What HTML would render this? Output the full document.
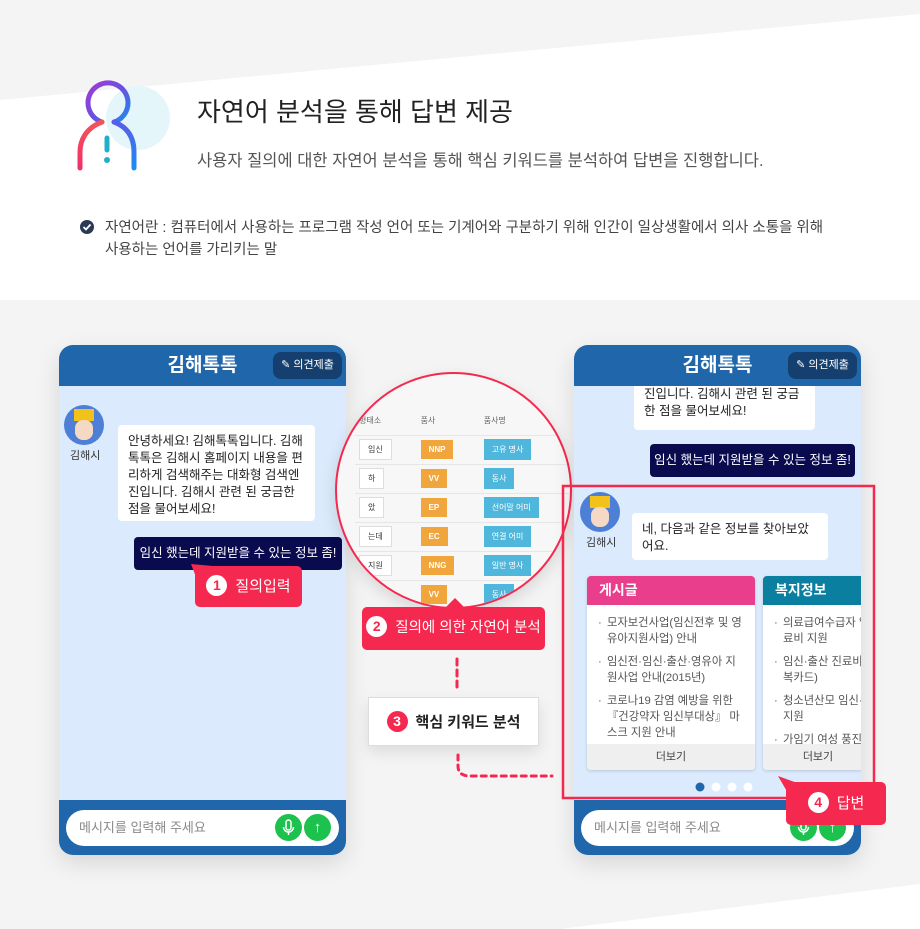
<!DOCTYPE html>
<html><head><meta charset="utf-8"><style>
*{margin:0;padding:0;box-sizing:border-box}
body{width:920px;height:929px;position:relative;overflow:hidden;background:#fff;font-family:"Liberation Sans","Noto Sans CJK KR",sans-serif;color:#333}
.a{position:absolute}
.phone{position:absolute;width:287px;height:510px;border-radius:14px;overflow:hidden;background:#dbeafc;box-shadow:0 8px 24px rgba(0,0,0,.12)}
.hd{position:absolute;left:0;top:0;width:100%;height:41px;background:#1f66aa;color:#fff;font-weight:bold;font-size:19px;text-align:center;line-height:41px}
.op{position:absolute;right:4px;top:7px;width:69px;height:27px;border-radius:8px;background:#153f6e;color:#fff;font-size:11px;line-height:27px;font-weight:normal;text-align:center}
.ft{position:absolute;left:0;bottom:0;width:100%;height:55px;background:#1f66aa}
.inp{position:absolute;left:7px;top:10px;width:273px;height:36px;border-radius:18px;background:#fff;color:#888;font-size:13px;line-height:36px;padding-left:13px}
.gb{position:absolute;top:4px;width:27px;height:27px;border-radius:50%;background:#1cc14e;color:#fff;text-align:center;line-height:27px;font-size:15px;font-weight:bold}
.gb svg{position:absolute;left:0;top:0}
.av{position:absolute;width:40px;height:40px;border-radius:50%;background:#4d7fd6;overflow:hidden}
.av i{position:absolute;left:10px;top:4px;width:20px;height:12px;background:#f2c21a}
.av b{position:absolute;left:11px;top:15px;width:18px;height:20px;border-radius:8px;background:#f6d9c4}
.avl{position:absolute;font-size:11px;color:#333}
.bub{position:absolute;background:#fff;border-radius:4px;font-size:12.5px;line-height:17px;padding:8px 10px;color:#222}
.um{position:absolute;background:#0a0a4e;color:#fff;border-radius:4px;font-size:12.5px;line-height:33px;text-align:center}
.co{position:absolute;background:#f5294f;color:#fff;border-radius:5px;font-size:15px;text-align:center}
.num{display:inline-block;width:21px;height:21px;border-radius:50%;background:#fff;color:#f5294f;font-weight:bold;font-size:14px;line-height:21px;text-align:center;margin-right:8px;vertical-align:1px}
table{border-collapse:collapse;font-size:8px}
td{height:29px;border-bottom:1px solid #e6e6e6;padding:0 4px}
.t1{display:inline-block;border:1px solid #ddd;background:#fff;padding:4px 8px;color:#333}
.t2{display:inline-block;background:#f0a53d;color:#fff;padding:5px 8px;font-weight:bold}
.t3{display:inline-block;background:#4fb7dc;color:#fff;padding:5px 8px}
.card{position:absolute;background:#fff;border-radius:4px;overflow:hidden;box-shadow:0 1px 3px rgba(0,0,0,.15)}
.card .ch{height:29px;color:#fff;font-size:14px;line-height:29px;padding-left:12px;font-weight:bold}
.card ul{list-style:none;padding:10px 10px 0 11px;font-size:11.3px;line-height:16px;color:#555}
.card li{padding-left:9px;position:relative;margin-bottom:7px}
.card li:before{content:"·";position:absolute;left:0}
.card .mr{position:absolute;bottom:0;left:0;width:100%;height:26px;background:#efefef;font-size:11px;line-height:26px;text-align:center;color:#444}
</style></head><body>
<svg class="a" style="left:0;top:0" width="920" height="929">
<polygon points="0,0 920,0 920,14 0,100" fill="#f4f4f4"/>
<rect x="0" y="300" width="920" height="629" fill="#f4f4f4"/>
<polygon points="920,884 920,929 560,929" fill="#fff"/>
<circle cx="138" cy="118" r="32" fill="#e4f6fa"/>
<defs><linearGradient id="g1" x1="0" y1="0" x2="1" y2="1"><stop offset="0" stop-color="#a13bd6"/><stop offset=".5" stop-color="#6a4fe0"/><stop offset="1" stop-color="#1b8cf0"/></linearGradient>
<linearGradient id="g2" x1="0" y1="0" x2="0" y2="1"><stop offset="0" stop-color="#f4535a"/><stop offset="1" stop-color="#f0306a"/></linearGradient>
<linearGradient id="g3" x1="0" y1="0" x2="0" y2="1"><stop offset="0" stop-color="#5a5de8"/><stop offset="1" stop-color="#1b8cf0"/></linearGradient></defs>
<path d="M102,122 A20,20 0 1 1 114,122" fill="none" stroke="url(#g1)" stroke-width="5" stroke-linecap="round"/>
<path d="M102,122 C86,128 80,140 80,152 L80,168" fill="none" stroke="url(#g2)" stroke-width="5" stroke-linecap="round"/>
<path d="M114,122 C130,128 134,140 134,152 L134,168" fill="none" stroke="url(#g3)" stroke-width="5" stroke-linecap="round"/>
<line x1="107" y1="138" x2="107" y2="150" stroke="#1fb0c8" stroke-width="5" stroke-linecap="round"/>
<circle cx="107" cy="160" r="3" fill="#1fb0c8"/>
<circle cx="87" cy="227" r="7" fill="#2a3a55"/>
<path d="M83.5,227 l2.5,2.5 l4.5,-5" fill="none" stroke="#fff" stroke-width="1.8"/>
</svg>
<div class="a" style="left:197px;top:92px;font-size:26px;color:#222">자연어 분석을 통해 답변 제공</div>
<div class="a" style="left:197px;top:147px;font-size:16.5px;color:#555">사용자 질의에 대한 자연어 분석을 통해 핵심 키워드를 분석하여 답변을 진행합니다.</div>
<div class="a" style="left:105px;top:217px;font-size:14.5px;line-height:22px;color:#444;width:760px">자연어란 : 컴퓨터에서 사용하는 프로그램 작성 언어 또는 기계어와 구분하기 위해 인간이 일상생활에서 의사 소통을 위해<br>사용하는 언어를 가리키는 말</div>

<!-- left phone -->
<div class="phone" style="left:59px;top:345px">
<div class="hd">김해톡톡<div class="op">✎ 의견제출</div></div>
<div class="av" style="left:5px;top:60px"><i></i><b></b></div>
<div class="avl" style="left:11px;top:102px">김해시</div>
<div class="bub" style="left:59px;top:80px;width:197px;height:96px">안녕하세요! 김해톡톡입니다. 김해톡톡은 김해시 홈페이지 내용을 편리하게 검색해주는 대화형 검색엔진입니다. 김해시 관련 된 궁금한 점을 물어보세요!</div>
<div class="um" style="left:75px;top:192px;width:208px;height:33px">임신 했는데 지원받을 수 있는 정보 좀!</div>
<div class="ft"><div class="inp">메시지를 입력해 주세요<div class="gb" style="left:209px"><svg width="27" height="27"><rect x="11" y="6" width="5" height="10" rx="2.5" fill="none" stroke="#fff" stroke-width="1.5"/><path d="M8.5,13 a5,5 0 0 0 10,0 M13.5,18 v3" fill="none" stroke="#fff" stroke-width="1.5"/></svg></div><div class="gb" style="left:238px">↑</div></div></div>
</div>
<svg class="a" style="left:185px;top:560px" width="30" height="32"><polygon points="6,4 28,6 16,30" fill="#f5294f"/></svg>
<div class="co" style="left:195px;top:566px;width:107px;height:41px;line-height:41px"><span class="num">1</span>질의입력</div>

<!-- circle -->
<div class="a" style="left:335px;top:372px;width:237px;height:237px;border-radius:50%;border:2px solid #f5294f;background:#f7f7f7;overflow:hidden;box-shadow:0 6px 16px rgba(0,0,0,.12)">
<table style="position:absolute;left:18px;top:32px;width:220px;color:#666">
<tr><td style="height:26px">형태소</td><td>품사</td><td>품사명</td></tr>
<tr><td><span class="t1">임신</span></td><td><span class="t2">NNP</span></td><td><span class="t3">고유 명사</span></td></tr>
<tr><td><span class="t1">하</span></td><td><span class="t2">VV</span></td><td><span class="t3">동사</span></td></tr>
<tr><td><span class="t1">았</span></td><td><span class="t2">EP</span></td><td><span class="t3">선어말 어미</span></td></tr>
<tr><td><span class="t1">는데</span></td><td><span class="t2">EC</span></td><td><span class="t3">연결 어미</span></td></tr>
<tr><td><span class="t1">지원</span></td><td><span class="t2">NNG</span></td><td><span class="t3">일반 명사</span></td></tr>
<tr><td><span class="t1">받</span></td><td><span class="t2">VV</span></td><td><span class="t3">동사</span></td></tr>
</table></div>
<svg class="a" style="left:445px;top:598px" width="20" height="10"><polygon points="10,0 20,10 0,10" fill="#f5294f"/></svg>
<div class="co" style="left:362px;top:607px;width:183px;height:43px;line-height:43px;font-size:14.5px"><span class="num">2</span>질의에 의한 자연어 분석</div>
<div class="a" style="left:368px;top:697px;width:171px;height:49px;background:#fff;border:1px solid #ddd;box-shadow:0 6px 14px rgba(0,0,0,.1);font-size:15px;line-height:49px;text-align:center;color:#222;font-weight:bold"><span class="num" style="background:#f5294f;color:#fff">3</span>핵심 키워드 분석</div>

<!-- right phone -->
<div class="phone" style="left:574px;top:345px">
<div class="bub" style="left:60px;top:30px;width:181px;height:55px;padding-top:11px">진입니다. 김해시 관련 된 궁금한 점을 물어보세요!</div>
<div class="hd">김해톡톡<div class="op">✎ 의견제출</div></div>
<div class="um" style="left:76px;top:99px;width:205px;height:33px">임신 했는데 지원받을 수 있는 정보 좀!</div>
<div class="av" style="left:6px;top:147px"><i></i><b></b></div>
<div class="avl" style="left:12px;top:189px">김해시</div>
<div class="bub" style="left:58px;top:168px;width:196px;height:47px">네, 다음과 같은 정보를 찾아보았어요.</div>
<div class="card" style="left:13px;top:231px;width:168px;height:194px"><div class="ch" style="background:#e83e8c">게시글</div>
<ul><li>모자보건사업(임신전후 및 영유아지원사업) 안내</li><li>임신전·임신·출산·영유아 지원사업 안내(2015년)</li><li>코로나19 감염 예방을 위한 『건강약자 임신부대상』 마스크 지원 안내</li></ul><div class="mr">더보기</div></div>
<div class="card" style="left:189px;top:231px;width:110px;height:194px;border-radius:4px 0 0 4px"><div class="ch" style="background:#0b7fa0">복지정보</div>
<ul style="white-space:nowrap"><li>의료급여수급자 임<br>료비 지원</li><li>임신·출산 진료비 바<br>복카드)</li><li>청소년산모 임신·출<br>지원</li><li>가임기 여성 풍진</li></ul><div class="mr">더보기</div></div>
<svg class="a" style="left:118px;top:436px" width="70" height="12"><circle cx="8" cy="6" r="4.5" fill="#1f66aa"/><circle cx="24" cy="6" r="4.5" fill="#fff"/><circle cx="40" cy="6" r="4.5" fill="#fff"/><circle cx="56" cy="6" r="4.5" fill="#fff"/></svg>
<div class="ft"><div class="inp">메시지를 입력해 주세요<div class="gb" style="left:209px"><svg width="27" height="27"><rect x="11" y="6" width="5" height="10" rx="2.5" fill="none" stroke="#fff" stroke-width="1.5"/><path d="M8.5,13 a5,5 0 0 0 10,0 M13.5,18 v3" fill="none" stroke="#fff" stroke-width="1.5"/></svg></div><div class="gb" style="left:238px">↑</div></div></div>
</div>
<svg class="a" style="left:0;top:0" width="920" height="929">
<line x1="457" y1="659" x2="457" y2="692" stroke="#f5294f" stroke-width="3" stroke-dasharray="6,5" stroke-linecap="round"/>
<path d="M458,755 L458,766 Q458,776 470,776 L552,776" fill="none" stroke="#f5294f" stroke-width="3" stroke-dasharray="5,5" stroke-linecap="round"/>
<rect x="563" y="486" width="311" height="312" fill="none" stroke="#f5294f" stroke-width="2.5"/>
<polygon points="778,776 800,784 792,800" fill="#f5294f"/>
</svg>
<div class="co" style="left:786px;top:782px;width:100px;height:43px;line-height:43px"><span class="num">4</span>답변</div>
</body></html>
